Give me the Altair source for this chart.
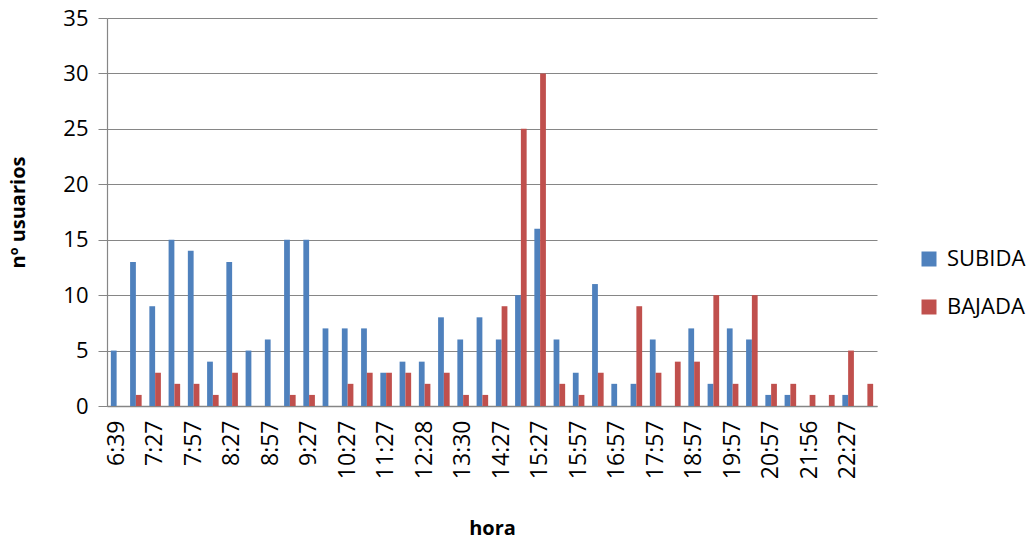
import altair as alt
import pandas as pd

horas = ["6:39", "6:57", "7:27", "7:42", "7:57", "8:12", "8:27", "8:42", "8:57", "9:12",
         "9:27", "9:57", "10:27", "10:57", "11:27", "11:57", "12:28", "12:58", "13:30", "13:57",
         "14:27", "14:57", "15:27", "15:42", "15:57", "16:27", "16:57", "17:27", "17:57", "18:27",
         "18:57", "19:27", "19:57", "20:27", "20:57", "21:27", "21:56", "22:12", "22:27", "22:57"]
subida = [5, 13, 9, 15, 14, 4, 13, 5, 6, 15,
          15, 7, 7, 7, 3, 4, 4, 8, 6, 8,
          6, 10, 16, 6, 3, 11, 2, 2, 6, 0,
          7, 2, 7, 6, 1, 1, 0, 0, 1, 0]
bajada = [0, 1, 3, 2, 2, 1, 3, 0, 0, 1,
          1, 0, 2, 3, 3, 3, 2, 3, 1, 1,
          9, 25, 30, 2, 1, 3, 0, 9, 3, 4,
          4, 10, 2, 10, 2, 2, 1, 1, 5, 2]
etiquetas = horas[::2]
series = ["SUBIDA", "BAJADA"]
colores = ["#4F81BD", "#C0504D"]

rows = []
for h, s, b in zip(horas, subida, bajada):
    rows.append({"hora": h, "serie": "SUBIDA", "valor": s})
    rows.append({"hora": h, "serie": "BAJADA", "valor": b})
df = pd.DataFrame(rows)

FONT = "Open Sans"

chart = alt.Chart(df).mark_bar().encode(
    x=alt.X("hora:N", sort=horas,
            scale=alt.Scale(paddingInner=0.4, paddingOuter=0.2),
            axis=alt.Axis(values=etiquetas, labelAngle=-90, ticks=False, grid=False,
                          labelPadding=14, labelFontSize=23, labelFont=FONT,
                          labelColor="#000000", domainColor="#868686", domainWidth=1.5,
                          title="hora", titleFont=FONT, titleFontSize=20,
                          titleFontWeight="bold", titleColor="#000000",
                          titleX=385, titleY=122, titleBaseline="middle")),
    xOffset=alt.XOffset("serie:N", sort=series),
    y=alt.Y("valor:Q", scale=alt.Scale(domain=[0, 35], nice=False),
            axis=alt.Axis(values=[0, 5, 10, 15, 20, 25, 30, 35], tickSize=9,
                          tickColor="#868686", labelPadding=10, labelFontSize=22,
                          labelFont=FONT, labelColor="#000000",
                          gridColor="#868686", gridWidth=1.2,
                          domainColor="#868686", domainWidth=1.2,
                          title="nº usuarios", titleFont=FONT, titleFontSize=20,
                          titleFontWeight="bold", titleColor="#000000",
                          titleX=-89, titleY=194, titleAngle=-90,
                          titleAlign="center", titleBaseline="middle")),
    color=alt.Color("serie:N", sort=series,
                    scale=alt.Scale(domain=series, range=colores),
                    legend=alt.Legend(title=None, orient="none", legendX=811, legendY=230,
                                      symbolType="square", symbolSize=225,
                                      symbolStrokeWidth=0, labelFont=FONT,
                                      labelFontSize=22, labelColor="#000000",
                                      labelOffset=7, rowPadding=26)),
).properties(
    width=770, height=388,
    autosize=alt.AutoSizeParams(type="none"),
    padding={"left": 107, "top": 18, "right": 152, "bottom": 137},
).configure_view(stroke=None)

chart.save("out.html", embed_options={"renderer": "svg", "actions": False})
